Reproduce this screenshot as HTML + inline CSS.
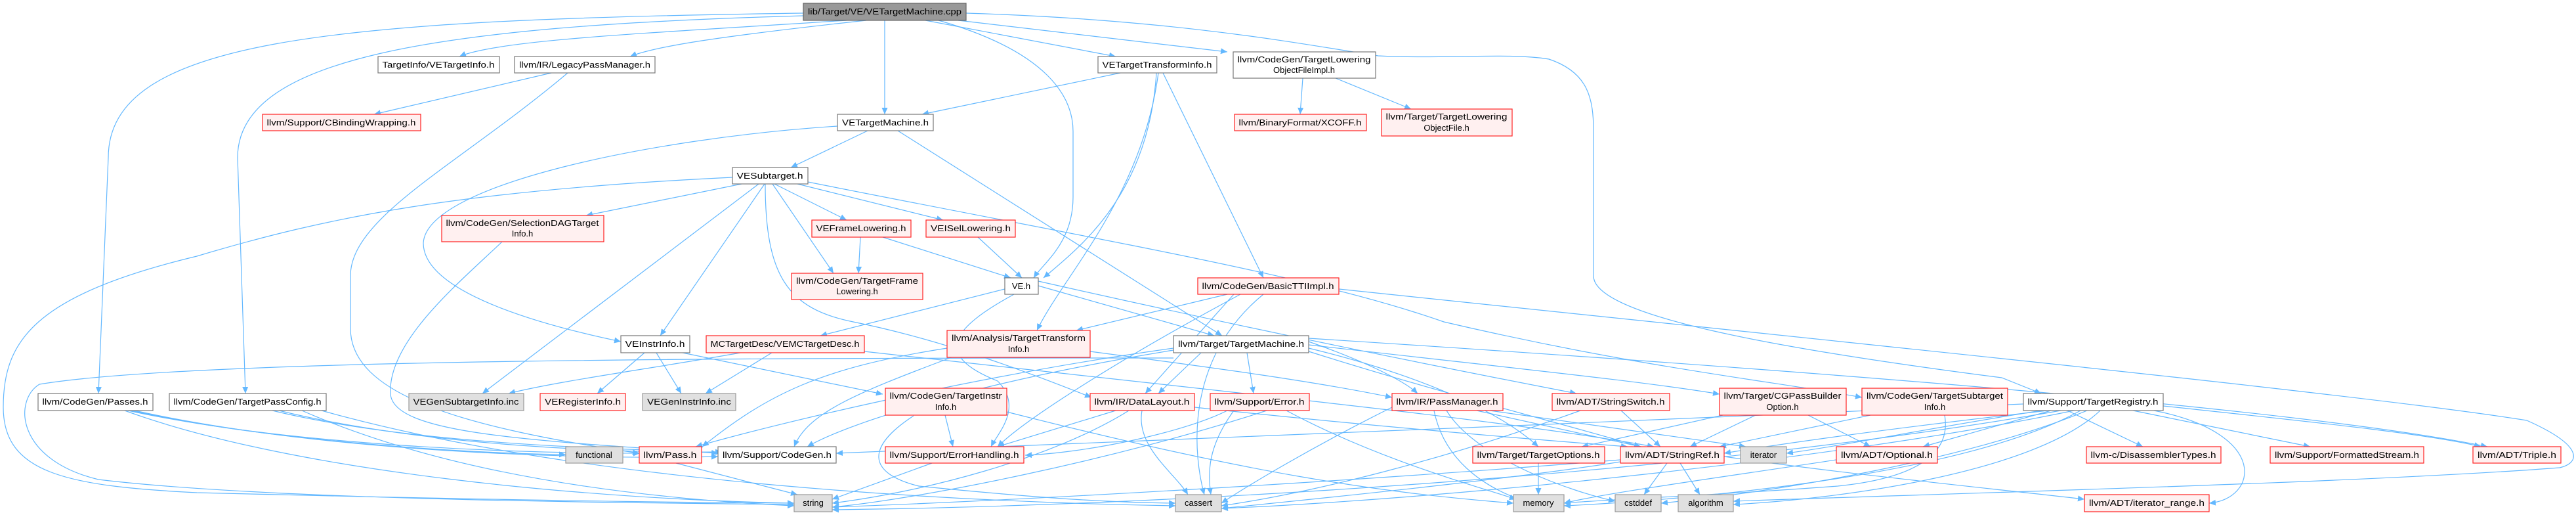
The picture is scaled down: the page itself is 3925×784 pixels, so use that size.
<!DOCTYPE html>
<html><head><meta charset="utf-8"><style>
html,body{margin:0;padding:0;background:#fff;width:3925px;height:784px;overflow:hidden}
svg{display:block}
text{font-family:"Liberation Sans",sans-serif;font-size:13px;fill:#000}
.e{fill:none;stroke:#63b8ff;stroke-width:1.2}
.w{fill:#fff;stroke:#777;stroke-width:1.2}
.r{fill:#fff0f0;stroke:#f22;stroke-width:1.2}
.g{fill:#e0e0e0;stroke:#999;stroke-width:1.2}
.k{fill:#999;stroke:#666;stroke-width:1.2}
</style></head><body>
<svg width="3925" height="784" viewBox="0 0 3925 784" xmlns="http://www.w3.org/2000/svg">
<defs><marker id="a" markerUnits="userSpaceOnUse" markerWidth="11" markerHeight="9" refX="10" refY="4.5" orient="auto"><path d="M0,0 L10,4.5 L0,9 z" fill="#63b8ff"/></marker></defs>
<g marker-end="url(#a)">
<path class="e" d="M1290,31 C1000,50 760,60 700,86"/>
<path class="e" d="M1320,31 C1100,55 1000,70 960,86"/>
<path class="e" d="M1224,20 C500,30 165,60 165,240 L150,599"/>
<path class="e" d="M1224,24 C650,40 362,90 362,240 L374,599"/>
<path class="e" d="M1348,31 L1348,174"/>
<path class="e" d="M1410,31 L1700,86"/>
<path class="e" d="M1460,31 L1870,79"/>
<path class="e" d="M1430,31 C1600,80 1635,150 1635,200 L1635,300 C1635,370 1590,400 1575,423"/>
<path class="e" d="M1472,20 C1800,30 2000,70 2100,85 C2200,90 2300,80 2360,90 C2420,110 2428,150 2428,200 L2428,420 C2428,480 2700,530 3050,575 L3110,599"/>
<path class="e" d="M840,111 L570,174"/>
<path class="e" d="M865,111 C700,250 534,330 534,420 L534,500 C534,600 700,650 974,690"/>
<path class="e" d="M1707,111 L1405,174"/>
<path class="e" d="M1762,111 C1750,300 1640,380 1590,423"/>
<path class="e" d="M1765,111 C1740,300 1620,420 1580,503"/>
<path class="e" d="M1772,111 L1925,423"/>
<path class="e" d="M1985,119 L1981,174"/>
<path class="e" d="M2035,119 L2150,166"/>
<path class="e" d="M1322,199 L1205,255"/>
<path class="e" d="M1368,199 L1862,511"/>
<path class="e" d="M1276,192 C1000,210 650,280 645,370 C645,450 850,500 946,520"/>
<path class="e" d="M1116,270 C700,290 500,330 300,390 C50,450 5,520 5,620 C5,720 100,740 300,750 C700,760 1000,765 1210,766"/>
<path class="e" d="M1130,280 L893,328"/>
<path class="e" d="M1180,280 L1290,335"/>
<path class="e" d="M1215,280 L1437,335"/>
<path class="e" d="M1165,280 L1006,511"/>
<path class="e" d="M1156,280 L735,599"/>
<path class="e" d="M1177,280 L1270,416"/>
<path class="e" d="M1166,280 C1166,420 1200,470 1300,490 C1450,520 1600,580 1663,605"/>
<path class="e" d="M1231,277 C1700,370 2000,420 2200,490 C2500,560 2700,580 2837,605"/>
<path class="e" d="M1311,361 L1308,416"/>
<path class="e" d="M1345,361 L1540,423"/>
<path class="e" d="M1490,361 L1557,423"/>
<path class="e" d="M1531,440 L1250,511"/>
<path class="e" d="M1582,435 L1850,511"/>
<path class="e" d="M1582,428 C1900,500 2200,560 2402,599"/>
<path class="e" d="M1545,448 C1450,500 1420,540 1520,580 C1560,620 1520,660 1510,680"/>
<path class="e" d="M1176,537 L1075,599"/>
<path class="e" d="M1128,537 C1000,560 850,580 775,599"/>
<path class="e" d="M1317,535 C1900,600 2300,640 2520,680"/>
<path class="e" d="M982,537 L910,599"/>
<path class="e" d="M1000,537 L1038,599"/>
<path class="e" d="M1040,537 L1345,600"/>
<path class="e" d="M1443,530 C1250,560 1170,600 1070,680"/>
<path class="e" d="M1450,544 C1300,600 1230,630 1210,680"/>
<path class="e" d="M1661,535 C1850,560 2000,580 2121,605"/>
<path class="e" d="M1870,448 L1640,503"/>
<path class="e" d="M1880,448 L1745,599"/>
<path class="e" d="M1890,448 C1700,550 1560,640 1520,680"/>
<path class="e" d="M1925,448 C1800,550 1820,700 1835,753"/>
<path class="e" d="M2040,440 C2800,520 3600,600 3850,640 C3940,680 3930,705 3900,712 C3600,735 3000,750 2641,763"/>
<path class="e" d="M1830,537 L1765,599"/>
<path class="e" d="M1900,537 L1910,599"/>
<path class="e" d="M1994,520 C2080,550 2140,580 2160,599"/>
<path class="e" d="M1994,525 C2300,560 2500,580 2620,600"/>
<path class="e" d="M1994,530 C2200,580 2300,640 2344,680"/>
<path class="e" d="M1994,515 C2700,560 3500,620 3790,680"/>
<path class="e" d="M1788,530 C1500,570 1200,640 1060,680"/>
<path class="e" d="M1788,533 C1500,580 1300,640 1230,680"/>
<path class="e" d="M1994,535 C2200,600 2400,650 2500,680"/>
<path class="e" d="M1788,545 C1200,545 300,545 60,585 C20,610 25,700 150,730 C400,760 900,765 1210,768"/>
<path class="e" d="M1440,632 L1452,680"/>
<path class="e" d="M1392,633 C1320,680 1320,720 1400,740 C1600,760 1700,765 1791,766"/>
<path class="e" d="M1534,627 C1900,720 2100,750 2306,766"/>
<path class="e" d="M1700,625 L1520,680"/>
<path class="e" d="M1720,625 C1600,700 1400,750 1268,766"/>
<path class="e" d="M1740,625 C1730,680 1790,720 1810,753"/>
<path class="e" d="M1820,620 C2100,650 2350,670 2480,680"/>
<path class="e" d="M1870,625 C1800,660 1650,690 1562,693"/>
<path class="e" d="M1880,625 C1840,680 1840,720 1845,753"/>
<path class="e" d="M1930,625 C1700,700 1400,760 1268,772"/>
<path class="e" d="M1960,625 C2100,700 2250,740 2310,760"/>
<path class="e" d="M2185,625 C2200,700 2260,740 2315,760"/>
<path class="e" d="M2250,625 L2500,680"/>
<path class="e" d="M2270,625 L2660,680"/>
<path class="e" d="M2121,620 C2000,680 1900,740 1861,766"/>
<path class="e" d="M2204,625 C2250,700 2400,750 2461,763"/>
<path class="e" d="M2470,625 L2530,680"/>
<path class="e" d="M2408,625 C2200,700 2000,750 1861,770"/>
<path class="e" d="M2675,632 L2575,680"/>
<path class="e" d="M2755,632 L2850,680"/>
<path class="e" d="M2625,632 L2410,680"/>
<path class="e" d="M2850,632 L2620,680"/>
<path class="e" d="M2963,632 C2975,700 2900,730 2800,740 C2600,755 2450,760 2383,766"/>
<path class="e" d="M3120,625 C2900,650 2750,670 2627,690"/>
<path class="e" d="M3110,625 C2950,650 2800,680 2722,690"/>
<path class="e" d="M3125,625 L2930,680"/>
<path class="e" d="M3150,625 L3265,680"/>
<path class="e" d="M3250,625 L3520,680"/>
<path class="e" d="M3296,618 C3500,640 3700,660 3780,680"/>
<path class="e" d="M3282,625 C3460,660 3440,760 3366,766"/>
<path class="e" d="M3170,625 C3000,720 2600,760 2383,770"/>
<path class="e" d="M3160,625 C2800,700 2200,760 1861,774"/>
<path class="e" d="M3200,625 C3100,720 2800,760 2641,768"/>
<path class="e" d="M3140,625 C2600,720 1800,770 1268,776"/>
<path class="e" d="M3180,625 C3000,700 2700,750 2531,766"/>
<path class="e" d="M3083,615 C2500,640 1800,670 1274,690"/>
<path class="e" d="M200,625 C400,670 700,690 862,692"/>
<path class="e" d="M195,625 C450,680 800,690 975,690"/>
<path class="e" d="M205,625 C500,690 900,700 1094,695"/>
<path class="e" d="M190,625 C450,720 900,760 1210,766"/>
<path class="e" d="M415,625 C600,670 850,680 985,685"/>
<path class="e" d="M425,625 C650,680 950,690 1100,688"/>
<path class="e" d="M460,625 C700,730 1000,760 1210,770"/>
<path class="e" d="M490,625 C900,740 1500,765 1791,770"/>
<path class="e" d="M1030,705 L1215,753"/>
<path class="e" d="M1420,705 L1268,760"/>
<path class="e" d="M2540,705 L2505,753"/>
<path class="e" d="M2560,705 L2590,753"/>
<path class="e" d="M2627,695 C2800,720 3000,740 3176,760"/>
<path class="e" d="M2469,700 C2100,730 1600,760 1268,772"/>
<path class="e" d="M2469,703 C2300,730 2000,760 1861,774"/>
<path class="e" d="M2798,700 C2600,730 2450,750 2383,766"/>
<path class="e" d="M2344,705 L2344,753"/>
<path class="e" d="M765,368 C700,430 590,520 595,600 C600,660 800,670 1094,690"/>
</g>
<g>
<rect class="k" x="1224" y="5" width="248" height="26"/><text x="1348" y="22" text-anchor="middle" textLength="234" lengthAdjust="spacingAndGlyphs">lib/Target/VE/VETargetMachine.cpp</text>
<rect class="w" x="576" y="86" width="185" height="25"/><text x="668" y="103" text-anchor="middle" textLength="171" lengthAdjust="spacingAndGlyphs">TargetInfo/VETargetInfo.h</text>
<rect class="w" x="784" y="86" width="214" height="25"/><text x="891" y="103" text-anchor="middle" textLength="200" lengthAdjust="spacingAndGlyphs">llvm/IR/LegacyPassManager.h</text>
<rect class="w" x="1673" y="86" width="181" height="25"/><text x="1763" y="103" text-anchor="middle" textLength="167" lengthAdjust="spacingAndGlyphs">VETargetTransformInfo.h</text>
<rect class="w" x="1879" y="79" width="217" height="40"/><text x="1987" y="95" text-anchor="middle" textLength="203" lengthAdjust="spacingAndGlyphs">llvm/CodeGen/TargetLowering</text><text x="1987" y="111" text-anchor="middle">ObjectFileImpl.h</text>
<rect class="r" x="400" y="174" width="241" height="25"/><text x="520" y="191" text-anchor="middle" textLength="227" lengthAdjust="spacingAndGlyphs">llvm/Support/CBindingWrapping.h</text>
<rect class="w" x="1276" y="174" width="146" height="25"/><text x="1349" y="191" text-anchor="middle" textLength="132" lengthAdjust="spacingAndGlyphs">VETargetMachine.h</text>
<rect class="r" x="1881" y="174" width="201" height="25"/><text x="1981" y="191" text-anchor="middle" textLength="187" lengthAdjust="spacingAndGlyphs">llvm/BinaryFormat/XCOFF.h</text>
<rect class="r" x="2105" y="166" width="199" height="41"/><text x="2204" y="182" text-anchor="middle" textLength="185" lengthAdjust="spacingAndGlyphs">llvm/Target/TargetLowering</text><text x="2204" y="199" text-anchor="middle">ObjectFile.h</text>
<rect class="w" x="1116" y="255" width="115" height="25"/><text x="1173" y="272" text-anchor="middle" textLength="101" lengthAdjust="spacingAndGlyphs">VESubtarget.h</text>
<rect class="r" x="673" y="328" width="247" height="40"/><text x="796" y="344" text-anchor="middle" textLength="233" lengthAdjust="spacingAndGlyphs">llvm/CodeGen/SelectionDAGTarget</text><text x="796" y="360" text-anchor="middle">Info.h</text>
<rect class="r" x="1237" y="335" width="151" height="26"/><text x="1312" y="352" text-anchor="middle" textLength="137" lengthAdjust="spacingAndGlyphs">VEFrameLowering.h</text>
<rect class="r" x="1411" y="335" width="136" height="26"/><text x="1479" y="352" text-anchor="middle" textLength="122" lengthAdjust="spacingAndGlyphs">VEISelLowering.h</text>
<rect class="r" x="1206" y="416" width="200" height="40"/><text x="1306" y="432" text-anchor="middle" textLength="186" lengthAdjust="spacingAndGlyphs">llvm/CodeGen/TargetFrame</text><text x="1306" y="448" text-anchor="middle">Lowering.h</text>
<rect class="w" x="1531" y="423" width="51" height="25"/><text x="1556" y="440" text-anchor="middle">VE.h</text>
<rect class="r" x="1825" y="423" width="215" height="25"/><text x="1932" y="440" text-anchor="middle" textLength="201" lengthAdjust="spacingAndGlyphs">llvm/CodeGen/BasicTTIImpl.h</text>
<rect class="w" x="946" y="511" width="105" height="26"/><text x="998" y="528" text-anchor="middle" textLength="91" lengthAdjust="spacingAndGlyphs">VEInstrInfo.h</text>
<rect class="r" x="1076" y="511" width="241" height="26"/><text x="1196" y="528" text-anchor="middle" textLength="227" lengthAdjust="spacingAndGlyphs">MCTargetDesc/VEMCTargetDesc.h</text>
<rect class="r" x="1443" y="503" width="218" height="41"/><text x="1552" y="519" text-anchor="middle" textLength="204" lengthAdjust="spacingAndGlyphs">llvm/Analysis/TargetTransform</text><text x="1552" y="536" text-anchor="middle">Info.h</text>
<rect class="w" x="1788" y="511" width="206" height="26"/><text x="1891" y="528" text-anchor="middle" textLength="192" lengthAdjust="spacingAndGlyphs">llvm/Target/TargetMachine.h</text>
<rect class="w" x="58" y="599" width="175" height="26"/><text x="145" y="616" text-anchor="middle" textLength="161" lengthAdjust="spacingAndGlyphs">llvm/CodeGen/Passes.h</text>
<rect class="w" x="258" y="599" width="239" height="26"/><text x="377" y="616" text-anchor="middle" textLength="225" lengthAdjust="spacingAndGlyphs">llvm/CodeGen/TargetPassConfig.h</text>
<rect class="g" x="623" y="599" width="175" height="26"/><text x="710" y="616" text-anchor="middle" textLength="161" lengthAdjust="spacingAndGlyphs">VEGenSubtargetInfo.inc</text>
<rect class="r" x="823" y="599" width="130" height="26"/><text x="888" y="616" text-anchor="middle" textLength="116" lengthAdjust="spacingAndGlyphs">VERegisterInfo.h</text>
<rect class="g" x="979" y="599" width="142" height="26"/><text x="1050" y="616" text-anchor="middle" textLength="128" lengthAdjust="spacingAndGlyphs">VEGenInstrInfo.inc</text>
<rect class="r" x="1349" y="591" width="185" height="41"/><text x="1441" y="607" text-anchor="middle" textLength="171" lengthAdjust="spacingAndGlyphs">llvm/CodeGen/TargetInstr</text><text x="1441" y="624" text-anchor="middle">Info.h</text>
<rect class="r" x="1661" y="599" width="159" height="26"/><text x="1740" y="616" text-anchor="middle" textLength="145" lengthAdjust="spacingAndGlyphs">llvm/IR/DataLayout.h</text>
<rect class="r" x="1844" y="599" width="151" height="26"/><text x="1919" y="616" text-anchor="middle" textLength="137" lengthAdjust="spacingAndGlyphs">llvm/Support/Error.h</text>
<rect class="r" x="2121" y="599" width="169" height="26"/><text x="2205" y="616" text-anchor="middle" textLength="155" lengthAdjust="spacingAndGlyphs">llvm/IR/PassManager.h</text>
<rect class="r" x="2365" y="599" width="179" height="26"/><text x="2454" y="616" text-anchor="middle" textLength="165" lengthAdjust="spacingAndGlyphs">llvm/ADT/StringSwitch.h</text>
<rect class="r" x="2620" y="591" width="193" height="41"/><text x="2716" y="607" text-anchor="middle" textLength="179" lengthAdjust="spacingAndGlyphs">llvm/Target/CGPassBuilder</text><text x="2716" y="624" text-anchor="middle">Option.h</text>
<rect class="r" x="2837" y="591" width="222" height="41"/><text x="2948" y="607" text-anchor="middle" textLength="208" lengthAdjust="spacingAndGlyphs">llvm/CodeGen/TargetSubtarget</text><text x="2948" y="624" text-anchor="middle">Info.h</text>
<rect class="w" x="3083" y="599" width="213" height="26"/><text x="3189" y="616" text-anchor="middle" textLength="199" lengthAdjust="spacingAndGlyphs">llvm/Support/TargetRegistry.h</text>
<rect class="g" x="862" y="680" width="87" height="25"/><text x="905" y="697" text-anchor="middle">functional</text>
<rect class="r" x="974" y="680" width="95" height="25"/><text x="1021" y="697" text-anchor="middle" textLength="81" lengthAdjust="spacingAndGlyphs">llvm/Pass.h</text>
<rect class="w" x="1094" y="680" width="180" height="25"/><text x="1184" y="697" text-anchor="middle" textLength="166" lengthAdjust="spacingAndGlyphs">llvm/Support/CodeGen.h</text>
<rect class="r" x="1349" y="680" width="211" height="25"/><text x="1454" y="697" text-anchor="middle" textLength="197" lengthAdjust="spacingAndGlyphs">llvm/Support/ErrorHandling.h</text>
<rect class="r" x="2244" y="680" width="201" height="25"/><text x="2344" y="697" text-anchor="middle" textLength="187" lengthAdjust="spacingAndGlyphs">llvm/Target/TargetOptions.h</text>
<rect class="r" x="2469" y="680" width="158" height="25"/><text x="2548" y="697" text-anchor="middle" textLength="144" lengthAdjust="spacingAndGlyphs">llvm/ADT/StringRef.h</text>
<rect class="g" x="2652" y="680" width="70" height="25"/><text x="2687" y="697" text-anchor="middle">iterator</text>
<rect class="r" x="2798" y="680" width="154" height="25"/><text x="2875" y="697" text-anchor="middle" textLength="140" lengthAdjust="spacingAndGlyphs">llvm/ADT/Optional.h</text>
<rect class="r" x="3179" y="680" width="205" height="25"/><text x="3281" y="697" text-anchor="middle" textLength="191" lengthAdjust="spacingAndGlyphs">llvm-c/DisassemblerTypes.h</text>
<rect class="r" x="3459" y="680" width="234" height="25"/><text x="3576" y="697" text-anchor="middle" textLength="220" lengthAdjust="spacingAndGlyphs">llvm/Support/FormattedStream.h</text>
<rect class="r" x="3768" y="680" width="134" height="25"/><text x="3835" y="697" text-anchor="middle" textLength="120" lengthAdjust="spacingAndGlyphs">llvm/ADT/Triple.h</text>
<rect class="g" x="1210" y="753" width="58" height="26"/><text x="1239" y="770" text-anchor="middle">string</text>
<rect class="g" x="1791" y="753" width="70" height="26"/><text x="1826" y="770" text-anchor="middle">cassert</text>
<rect class="g" x="2306" y="753" width="77" height="26"/><text x="2344" y="770" text-anchor="middle">memory</text>
<rect class="g" x="2461" y="753" width="70" height="26"/><text x="2496" y="770" text-anchor="middle">cstddef</text>
<rect class="g" x="2557" y="753" width="84" height="26"/><text x="2599" y="770" text-anchor="middle">algorithm</text>
<rect class="r" x="3176" y="753" width="190" height="26"/><text x="3271" y="770" text-anchor="middle" textLength="176" lengthAdjust="spacingAndGlyphs">llvm/ADT/iterator_range.h</text>
</g>
</svg>
</body></html>
